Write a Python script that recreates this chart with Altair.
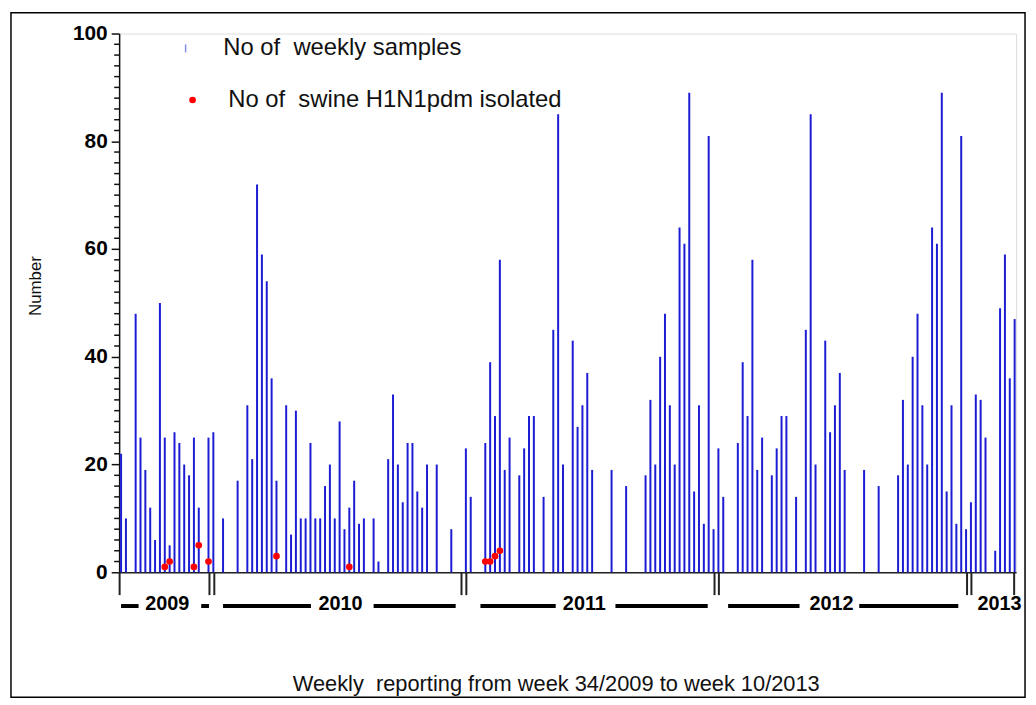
import altair as alt
import pandas as pd

# ---- data -------------------------------------------------------------------
weeks = [0, 1, 3, 4, 5, 6, 7, 8, 9, 10, 11, 12, 13, 14, 15, 16, 18, 19, 21, 24,
         26, 27, 28, 29, 30, 31, 32, 34, 35, 36, 37, 38, 39, 40, 41, 42, 43, 44, 45, 46,
         47, 48, 49, 50, 52, 53, 55, 56, 57, 58, 59, 60, 61, 62, 63, 65, 68, 71, 72, 75,
         76, 77, 78, 79, 80, 82, 83, 84, 85, 87, 89, 90, 91, 93, 94, 95, 96, 97, 101, 104,
         108, 109, 110, 111, 112, 113, 114, 115, 116, 117, 118, 119, 120, 121, 122, 123, 124, 127, 128, 129,
         130, 131, 132, 134, 135, 136, 137, 139, 141, 142, 143, 145, 146, 147, 148, 149, 153, 156, 160, 161,
         162, 163, 164, 165, 166, 167, 168, 169, 170, 171, 172, 173, 174, 175, 176, 177, 178, 180, 181, 182,
         183, 184]
samples = [22, 10, 48, 25, 19, 12, 6, 50, 25, 5, 26, 24, 20, 18, 25, 12, 25, 26, 10, 17,
           31, 21, 72, 59, 54, 36, 17, 31, 7, 30, 10, 10, 24, 10, 10, 16, 20, 10, 28, 8,
           12, 17, 9, 10, 10, 2, 21, 33, 20, 13, 24, 24, 15, 12, 20, 20, 8, 23, 14, 24,
           39, 29, 58, 19, 25, 18, 23, 29, 29, 14, 45, 85, 20, 43, 27, 31, 37, 19, 19, 16,
           18, 32, 20, 40, 48, 31, 20, 64, 61, 89, 15, 31, 9, 81, 8, 23, 14, 24, 39, 29,
           58, 19, 25, 18, 23, 29, 29, 14, 45, 85, 20, 43, 26, 31, 37, 19, 19, 16, 18, 32,
           20, 40, 48, 31, 20, 64, 61, 89, 15, 31, 9, 81, 8, 13, 33, 32, 25, 4, 49, 59,
           36, 47]

h1n1_weeks = [9, 10, 15, 16, 18, 32, 47, 75, 76, 77, 78]
h1n1_values = [1, 2, 1, 5, 2, 3, 1, 2, 2, 3, 4]

# y axis ticks
major_ticks = [0, 20, 40, 60, 80, 100]
minor_ticks = [v for v in range(0, 101, 2) if v % 20 != 0]

# axis break marks / end ticks (in week-index units)
break_marks = [-0.3, 18.2, 19.2, 70.1, 71.1, 122.2, 123.1, 174.2, 175.1, 183.9]

# year annotation row
year_labels = ["2009", "2010", "2011", "2012", "2013"]
year_centers = [9.5, 45.2, 95.4, 146.3, 180.9]
year_bar_start = [0.0, 16.5, 21.0, 52.0, 74.0, 101.8, 125.0, 152.0]
year_bar_end = [3.6, 18.1, 39.1, 68.9, 89.5, 120.8, 139.7, 172.4]

legend_labels = ["No of\u00a0 weekly samples", "No of\u00a0 swine H1N1pdm isolated"]
x_title = "Weekly\u00a0 reporting from week 34/2009 to week 10/2013"
y_title = "Number"

FONT = "Liberation Sans, Arial, Helvetica, sans-serif"
BLUE = "#1c1cd4"

samples_df = pd.DataFrame({"week": weeks, "n": samples})
h1n1_df = pd.DataFrame({"week": h1n1_weeks, "n": h1n1_values})
breaks_df = pd.DataFrame({"week": break_marks})
years_df = pd.DataFrame({"label": year_labels, "week": year_centers})
ybars_df = pd.DataFrame({"s": year_bar_start, "e": year_bar_end})
minor_df = pd.DataFrame({"v": minor_ticks})
one = pd.DataFrame({"k": [0]})

xscale = alt.Scale(domain=[-0.4, 184.3], nice=False, zero=False)
yscale = alt.Scale(domain=[0, 100], nice=False)

bars = alt.Chart(samples_df).mark_rule(color=BLUE, strokeWidth=2).encode(
    x=alt.X("week:Q", scale=xscale,
            axis=alt.Axis(labels=False, ticks=False, grid=False, domain=True,
                          domainColor="#222", domainWidth=1.5,
                          title=x_title, titleFont=FONT, titleFontSize=22,
                          titleFontWeight="normal", titleColor="#111",
                          titleX=440, titleY=112, titleBaseline="middle")),
    y=alt.Y("n:Q", scale=yscale,
            axis=alt.Axis(values=major_ticks, tickSize=8,
                          tickColor="#111", tickWidth=1.5,
                          domainColor="#111", domainWidth=1.5, grid=False,
                          labelFont=FONT, labelFontSize=21, labelFontWeight="bold",
                          labelColor="#000", labelPadding=4,
                          labelOverlap=False, labelFlush=False,
                          title=y_title, titleFont=FONT, titleFontSize=17,
                          titleFontWeight="normal", titleColor="#111",
                          titleAngle=-90, titleX=-84, titleY=254,
                          titleAlign="center", titleBaseline="middle")),
    y2=alt.datum(0),
)

minor = alt.Chart(minor_df).mark_rule(color="#111", strokeWidth=1.5).encode(
    y=alt.Y("v:Q", scale=yscale), x=alt.value(-5), x2=alt.value(0),
)

dots = alt.Chart(h1n1_df).mark_circle(color="#ff0000", size=45, opacity=1).encode(
    x=alt.X("week:Q", scale=xscale),
    y=alt.Y("n:Q", scale=yscale),
)

breaks = alt.Chart(breaks_df).mark_rule(color="#222", strokeWidth=2).encode(
    x=alt.X("week:Q", scale=xscale),
    y=alt.value(543), y2=alt.value(566),
)

ybars = alt.Chart(ybars_df).mark_rule(color="#000", strokeWidth=4).encode(
    x=alt.X("s:Q", scale=xscale), x2="e:Q", y=alt.value(577),
)

ylabels = alt.Chart(years_df).mark_text(
    font=FONT, fontSize=20, fontWeight="bold", color="#000",
    align="center", baseline="middle").encode(
    x=alt.X("week:Q", scale=xscale), y=alt.value(575), text="label:N",
)

leg1_mark = alt.Chart(one).mark_rule(color="#8a8aee", strokeWidth=1.5).encode(
    x=alt.value(67), y=alt.value(11), y2=alt.value(19))
leg1_text = alt.Chart(one).mark_text(
    font=FONT, fontSize=24, color="#111", align="left", baseline="middle").encode(
    x=alt.value(105), y=alt.value(15), text=alt.value(legend_labels[0]))
leg2_mark = alt.Chart(one).mark_circle(color="#ff0000", size=45, opacity=1).encode(
    x=alt.value(74), y=alt.value(67))
leg2_text = alt.Chart(one).mark_text(
    font=FONT, fontSize=24, color="#111", align="left", baseline="middle").encode(
    x=alt.value(110), y=alt.value(67), text=alt.value(legend_labels[1]))

frame = alt.Chart(one).mark_rect(fill=None, stroke="#000", strokeWidth=1.5).encode(
    x=alt.value(-109), x2=alt.value(913), y=alt.value(-21), y2=alt.value(669))

chart = alt.layer(
    frame, bars, minor, dots, breaks, ybars, ylabels,
    leg1_mark, leg1_text, leg2_mark, leg2_text,
).properties(
    width=904, height=543,
    autosize=alt.AutoSizeParams(type="none"),
    padding={"left": 112, "top": 23, "right": 12, "bottom": 128},
).configure_view(stroke=None).configure(background="#ffffff")

chart.save("out.html", embed_options={"renderer": "svg", "actions": False})
